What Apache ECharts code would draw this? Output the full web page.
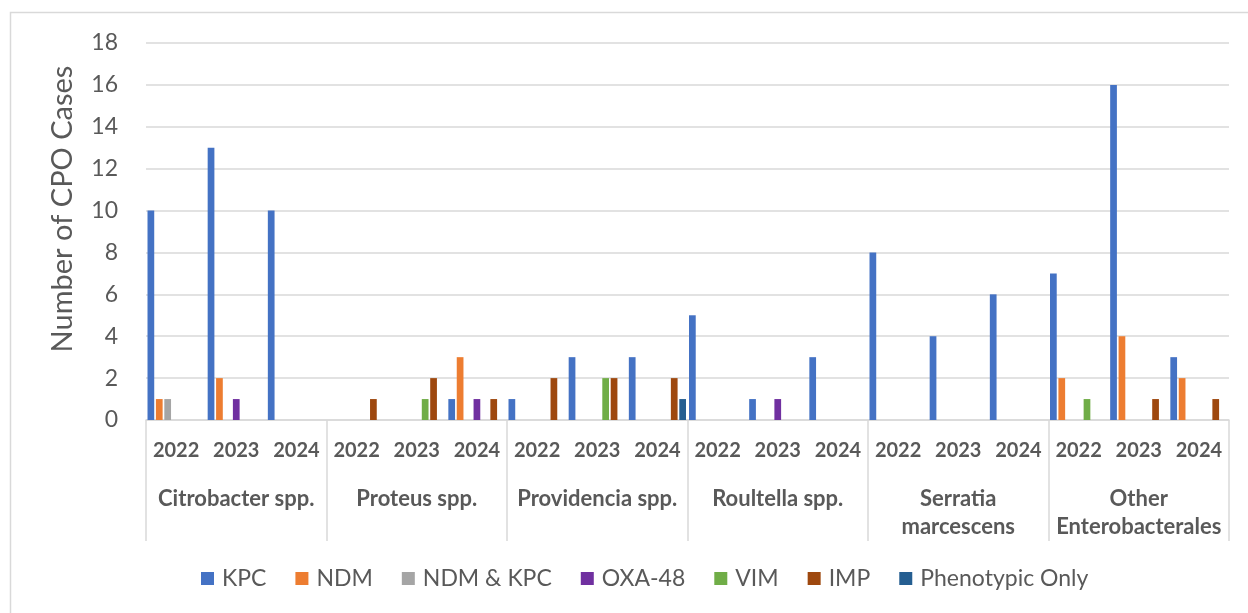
<!DOCTYPE html>
<html>
<head>
<meta charset="utf-8">
<title>CPO Cases by Organism and Year</title>
<script src="https://cdn.jsdelivr.net/npm/echarts/dist/echarts.min.js"></script>
<style>
  html, body { margin: 0; padding: 0; background: #ffffff; }
  #chart { width: 1248px; height: 613px; }
</style>
</head>
<body>
<div id="chart"></div>
<script>
// Year labels (inner category level) and organism groups (outer level)
const years = ['2022', '2023', '2024'];
const organisms = [
  'Citrobacter spp.',
  'Proteus spp.',
  'Providencia spp.',
  'Roultella spp.',
  'Serratia\nmarcescens',
  'Other\nEnterobacterales'
];
const yTicks = { min: 0, max: 18, interval: 2 };

// Case counts per organism/year (3 years per organism, in organism order)
const kpc        = [10, 13, 10,  0, 0, 1,  1, 3, 3,  5, 1, 3,  8, 4, 6,  7, 16, 3];
const ndm        = [ 1,  2,  0,  0, 0, 3,  0, 0, 0,  0, 0, 0,  0, 0, 0,  2,  4, 2];
const ndmKpc     = [ 1,  0,  0,  0, 0, 0,  0, 0, 0,  0, 0, 0,  0, 0, 0,  0,  0, 0];
const oxa48      = [ 0,  1,  0,  0, 0, 1,  0, 0, 0,  0, 1, 0,  0, 0, 0,  0,  0, 0];
const vim        = [ 0,  0,  0,  0, 1, 0,  0, 2, 0,  0, 0, 0,  0, 0, 0,  1,  0, 0];
const imp        = [ 0,  0,  0,  1, 2, 1,  2, 2, 2,  0, 0, 0,  0, 0, 0,  0,  1, 1];
const phenotypic = [ 0,  0,  0,  0, 0, 0,  0, 0, 1,  0, 0, 0,  0, 0, 0,  0,  0, 0];

const seriesDefs = [
  { name: 'KPC',             data: kpc,        color: '#4472C4' },
  { name: 'NDM',             data: ndm,        color: '#ED7D31' },
  { name: 'NDM & KPC',       data: ndmKpc,     color: '#A5A5A5' },
  { name: 'OXA-48',          data: oxa48,      color: '#7030A0' },
  { name: 'VIM',             data: vim,        color: '#70AD47' },
  { name: 'IMP',             data: imp,        color: '#9E480E' },
  { name: 'Phenotypic Only', data: phenotypic, color: '#255E91' }
];

const yearCategories = [];
organisms.forEach(() => years.forEach(y => yearCategories.push(y)));

const FONT = 'Lato, "Open Sans", sans-serif';
const TEXT = '#595959';
const GRID = '#D9D9D9';

const chart = echarts.init(document.getElementById('chart'), null, { renderer: 'canvas' });

chart.setOption({
  animation: false,
  backgroundColor: '#ffffff',
  textStyle: { fontFamily: FONT },
  grid: { left: 146, right: 19, top: 43, bottom: 193, containLabel: false },
  graphic: [
    {
      type: 'rect',
      silent: true,
      shape: { x: 10.5, y: 12.5, width: 1260, height: 640 },
      style: { fill: 'none', stroke: GRID, lineWidth: 1.5 },
      z: -1
    },
    {
      type: 'text',
      silent: true,
      x: 63,
      y: 209,
      rotation: Math.PI / 2,
      style: {
        text: 'Number of CPO Cases',
        fontFamily: FONT,
        fontSize: 29,
        fill: TEXT,
        align: 'center',
        verticalAlign: 'middle'
      }
    }
  ],
  legend: {
    bottom: 18,
    left: 196,
    itemWidth: 13,
    itemHeight: 13,
    itemGap: 29,
    icon: 'rect',
    textStyle: { fontFamily: FONT, fontSize: 23, color: TEXT, padding: [0, 0, 0, 3] },
    data: seriesDefs.map(s => s.name)
  },
  xAxis: [
    {
      type: 'category',
      data: yearCategories,
      position: 'bottom',
      axisLine: { show: true, lineStyle: { color: GRID, width: 1.5 } },
      axisTick: { show: false },
      axisLabel: {
        interval: 0,
        margin: 21,
        fontFamily: FONT,
        fontSize: 20,
        fontWeight: 'bold',
        color: TEXT
      }
    },
    {
      type: 'category',
      data: organisms,
      position: 'bottom',
      axisLine: { show: false },
      axisTick: { show: true, length: 121, lineStyle: { color: GRID, width: 1.5 } },
      axisLabel: {
        interval: 0,
        margin: 65,
        fontFamily: FONT,
        fontSize: 22,
        fontWeight: 'bold',
        color: TEXT,
        lineHeight: 28
      }
    }
  ],
  yAxis: {
    type: 'value',
    min: yTicks.min,
    max: yTicks.max,
    interval: yTicks.interval,
    axisLine: { show: false },
    axisTick: { show: false },
    splitLine: { lineStyle: { color: GRID, width: 1.5 } },
    axisLabel: { margin: 28, fontFamily: FONT, fontSize: 23, color: TEXT }
  },
  series: seriesDefs.map(s => ({
    name: s.name,
    type: 'bar',
    xAxisIndex: 0,
    data: s.data,
    barCategoryGap: '5%',
    barGap: '25%',
    itemStyle: { color: s.color },
    emphasis: { disabled: true }
  }))
});
</script>
</body>
</html>
